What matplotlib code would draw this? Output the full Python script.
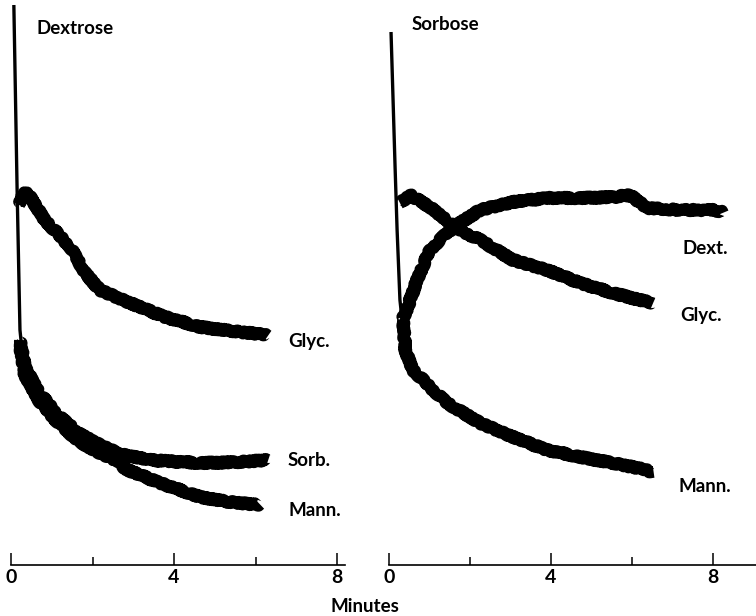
import matplotlib
matplotlib.use("Agg")
import matplotlib.pyplot as plt
from matplotlib.ticker import FixedLocator

plt.rcParams['font.family'] = ['Lato', 'DejaVu Sans']

# ---- Dextrose panel (time in minutes, deflection in arbitrary units) ----
dex_spike_t = [0.07, 0.15, 0.22, 0.27]
dex_spike_v = [56.0, 37.5, 23.5, 21.5]

dex_glyc_t = [0.20, 0.28, 0.39, 0.83, 1.45, 1.82, 2.18, 2.92, 3.78, 4.64, 5.62, 6.31]
dex_glyc_v = [36.0, 37.0, 37.3, 34.5, 31.8, 29.2, 27.5, 26.2, 24.8, 23.8, 23.3, 23.0]

dex_sorb_t = [0.22, 0.34, 0.71, 1.20, 1.69, 2.18, 2.67, 3.41, 4.64, 5.62, 6.31]
dex_sorb_v = [22.5, 19.8, 17.1, 14.8, 13.1, 12.0, 11.1, 10.5, 10.2, 10.3, 10.5]

dex_mann_t = [0.22, 0.34, 0.71, 1.20, 1.69, 2.18, 2.67, 2.80, 3.66, 4.64, 5.37, 6.11]
dex_mann_v = [22.0, 19.0, 16.3, 14.0, 12.3, 11.2, 10.3, 9.6, 8.2, 6.8, 6.3, 6.0]

# ---- Sorbose panel ----
sor_spike_t = [0.05, 0.15, 0.20, 0.27, 0.35]
sor_spike_v = [53.3, 39.8, 33.5, 26.5, 23.5]

sor_dext_t = [0.32, 0.44, 0.69, 1.01, 1.43, 1.75, 2.25, 3.06, 3.90, 4.72, 5.53, 5.95, 6.37, 7.19, 8.00, 8.25]
sor_dext_v = [24.5, 25.5, 28.5, 31.5, 33.2, 34.2, 35.5, 36.3, 36.7, 36.7, 36.8, 37.0, 35.7, 35.5, 35.5, 35.3]

sor_glyc_t = [0.27, 0.52, 1.01, 1.51, 1.75, 2.25, 3.06, 3.90, 4.72, 5.53, 6.20, 6.52]
sor_glyc_v = [36.2, 37.0, 35.8, 34.2, 33.5, 32.5, 30.5, 29.5, 28.2, 27.2, 26.5, 26.2]

sor_mann_t = [0.35, 0.40, 0.59, 1.01, 1.43, 2.25, 3.06, 3.90, 4.72, 5.53, 6.37, 6.52]
sor_mann_v = [24.5, 21.5, 19.5, 17.8, 16.2, 14.2, 12.8, 11.5, 10.8, 10.2, 9.5, 9.2]

panel_titles = ["Dextrose", "Sorbose"]
major_ticks = [0, 4, 8]
minor_ticks = [2, 6]
xlabel = "Minutes"

W, H = 756, 616
fig = plt.figure(figsize=(W / 100, H / 100), dpi=100)

def px_axes(left, right, bottom, top):
    return fig.add_axes([left / W, 1 - bottom / H, (right - left) / W, (bottom - top) / H])

ax1 = px_axes(11, 345, 565, 0)
ax2 = px_axes(389, 756, 565, 0)
ax1.set_xlim(0, (345 - 11) / 40.75)
ax2.set_xlim(0, (756 - 389) / 40.5)

for ax in (ax1, ax2):
    ax.set_ylim(0, 56.5)
    for s in ("left", "right", "top"):
        ax.spines[s].set_visible(False)
    ax.spines["bottom"].set_linewidth(1.2)
    ax.set_yticks([])
    ax.xaxis.set_major_locator(FixedLocator(major_ticks))
    ax.xaxis.set_minor_locator(FixedLocator(minor_ticks))
    ax.set_xticklabels([str(t) for t in major_ticks])
    ax.tick_params(axis="x", which="major", direction="in", length=9, width=1.1,
                   pad=3, labelsize=14)
    ax.tick_params(axis="x", which="minor", direction="in", length=6, width=1.1)
    for lab in ax.get_xticklabels():
        lab.set_fontweight("bold")
    ax.patch.set_visible(False)

def trace(ax, t, v, lw=8.5):
    line, = ax.plot(t, v, color="black", lw=lw, solid_capstyle="butt",
                    solid_joinstyle="round")
    line.set_sketch_params(scale=1.3, length=5, randomness=8)
    line.set_clip_on(False)
    return line

# initial transient common to all traces
for ax, t, v in ((ax1, dex_spike_t, dex_spike_v), (ax2, sor_spike_t, sor_spike_v)):
    sp, = ax.plot(t, v, color="black", lw=2.4, solid_capstyle="butt")
    sp.set_clip_on(False)

trace(ax1, dex_glyc_t, dex_glyc_v)
trace(ax1, dex_sorb_t, dex_sorb_v)
trace(ax1, dex_mann_t, dex_mann_v)

trace(ax2, sor_dext_t, sor_dext_v)
trace(ax2, sor_glyc_t, sor_glyc_v)
trace(ax2, sor_mann_t, sor_mann_v)

lab_kw = dict(fontsize=13.5, fontweight="bold", ha="left", va="center")

def fig_text(x, y, s, **kw):
    fig.text(x / W, 1 - y / H, s, **kw)

fig_text(36, 28, panel_titles[0], **lab_kw)
fig_text(412, 25, panel_titles[1], **lab_kw)

fig_text(288, 341, "Glyc.", **lab_kw)
fig_text(288, 460, "Sorb.", **lab_kw)
fig_text(288, 510, "Mann.", **lab_kw)

fig_text(682, 248, "Dext.", **lab_kw)
fig_text(680, 316, "Glyc.", **lab_kw)
fig_text(678, 487, "Mann.", **lab_kw)

fig_text(365, 606, xlabel, fontsize=13.5, fontweight="bold", ha="center", va="center")

fig.savefig("out.png", dpi=100, facecolor="white")
